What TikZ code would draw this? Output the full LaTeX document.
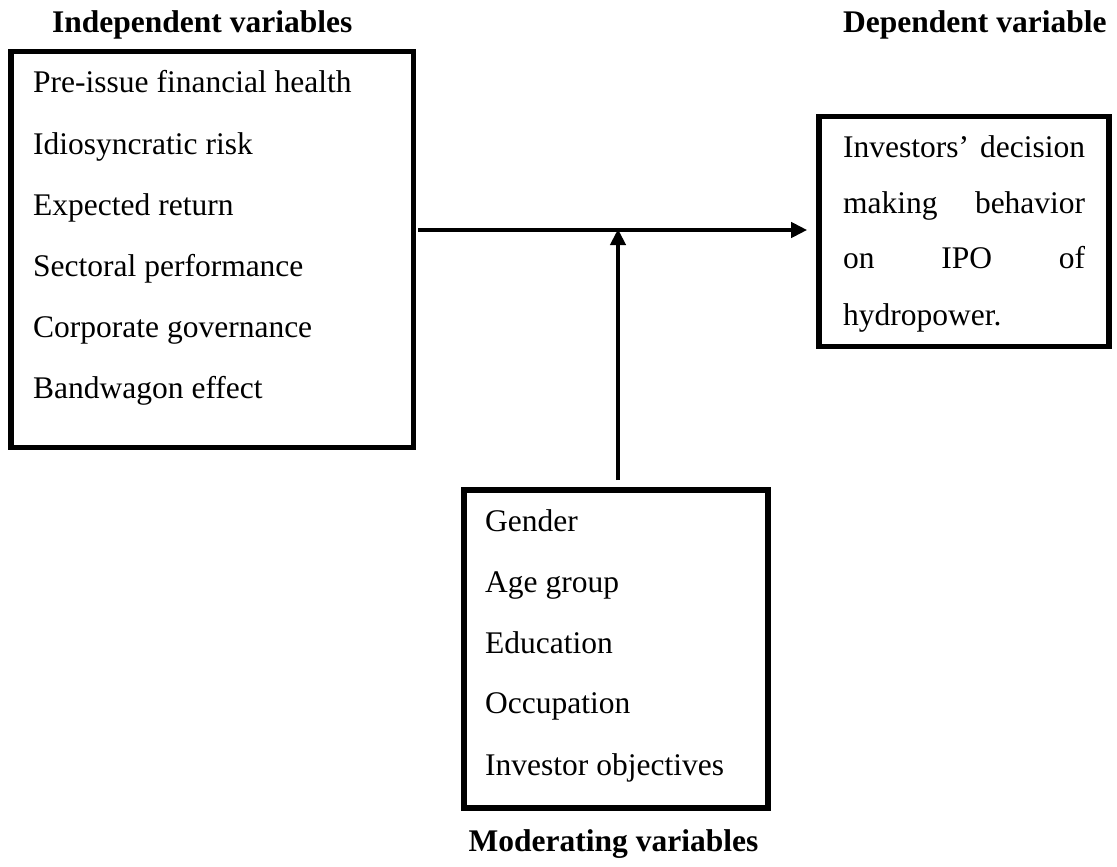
\documentclass[tikz,border=0pt]{standalone}
\usepackage{fontspec}
\setmainfont{Liberation Serif}
\usetikzlibrary{arrows.meta}
\begin{document}
\begin{tikzpicture}[x=1pt,y=-1pt,
  box/.style={draw=black, line width=5.6pt, rectangle, inner sep=0pt},
  txt/.style={anchor=base west, inner sep=0pt, font=\fontsize{31.5}{38}\selectfont},
  ttl/.style={anchor=base west, inner sep=0pt, font=\fontsize{31.5}{38}\selectfont\bfseries},
  arr/.style={line width=4pt, -{Triangle[length=16pt,width=15pt]}}]
\useasboundingbox (0,0) rectangle (1117,867);
% boxes
\node[box, minimum width=402.7pt, minimum height=395.8pt] (ind) at (212.3,249.6) {};
\node[box, minimum width=290pt, minimum height=230pt] (dep) at (964,231.5) {};
\node[box, minimum width=304pt, minimum height=318pt] (mod) at (616,649) {};
% titles
\node[ttl] (tind) at (52,33) {Independent variables};
\node[ttl] (tdep) at (843,33) {Dependent variable};
\node[ttl, anchor=base] (tmod) at (613.5,851) {Moderating variables};
% independent items
\node[txt] (i1) at (33,92.7) {Pre-issue financial health};
\node[txt] (i2) at (33,154) {Idiosyncratic risk};
\node[txt] (i3) at (33,215) {Expected return};
\node[txt] (i4) at (33,276) {Sectoral performance};
\node[txt] (i5) at (33,337) {Corporate governance};
\node[txt] (i6) at (33,398) {Bandwagon effect};
% dependent text
\node[txt] (d1) at (843,157) {\makebox[242pt][s]{Investors’ decision}};
\node[txt] (d2) at (843,213) {\makebox[242pt][s]{making behavior}};
\node[txt] (d3) at (843,268) {\makebox[242pt][s]{on IPO of}};
\node[txt] (d4) at (843,325) {hydropower.};
% moderating items
\node[txt] (m1) at (485,531) {Gender};
\node[txt] (m2) at (485,592) {Age group};
\node[txt] (m3) at (485,653) {Education};
\node[txt] (m4) at (485,713) {Occupation};
\node[txt] (m5) at (485,775) {Investor objectives};
% connectors
\coordinate (j) at (618,230);
\draw[arr, shorten <=1.5pt, shorten >=9pt] (ind.east |- j) -- (dep.west |- j);
\draw[arr, shorten <=7pt, shorten >=-1pt] (mod.north -| j) -- (j);
\end{tikzpicture}
\end{document}
